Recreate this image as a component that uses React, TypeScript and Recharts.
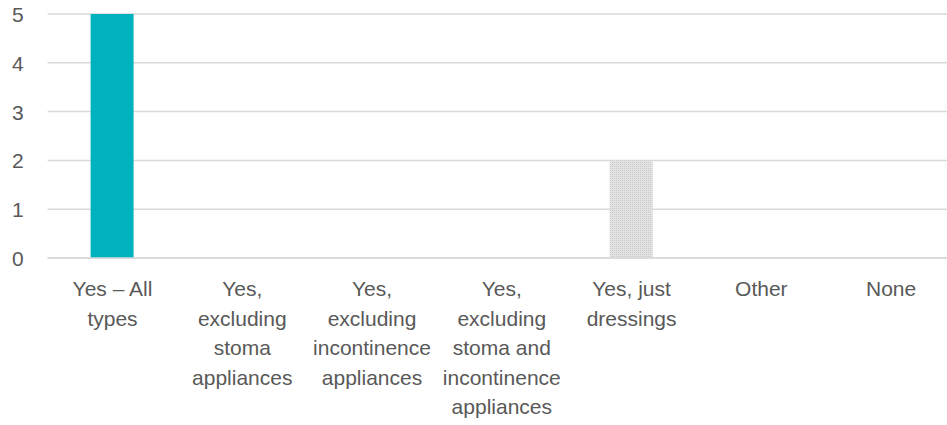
import React from 'react';
import { BarChart, Bar, XAxis, YAxis, CartesianGrid, Cell } from 'recharts';

const categories = [
  'Yes – All\ntypes',
  'Yes,\nexcluding\nstoma\nappliances',
  'Yes,\nexcluding\nincontinence\nappliances',
  'Yes,\nexcluding\nstoma and\nincontinence\nappliances',
  'Yes, just\ndressings',
  'Other',
  'None',
];
const counts = [5, 0, 0, 0, 2, 0, 0];
const barFills = ['#00B2BE', '#00B2BE', '#00B2BE', '#00B2BE', 'url(#dots)', '#00B2BE', '#00B2BE'];
const yTicks = [0, 1, 2, 3, 4, 5];

const data = categories.map((name, i) => ({ name, value: counts[i] }));

const FONT = '"Liberation Sans", Arial, sans-serif';
const TEXT = '#595959';

function XTick(props: any) {
  const { x, y, payload } = props;
  const lines = String(payload.value).split('\n');
  return (
    <text x={x} y={y} textAnchor="middle" fill={TEXT} fontFamily={FONT} fontSize={21}>
      {lines.map((l, i) => (
        <tspan key={i} x={x} dy={i === 0 ? 30 : 29.5}>
          {l}
        </tspan>
      ))}
    </text>
  );
}

function YTick(props: any) {
  const { x, y, payload } = props;
  return (
    <text x={x - 16} y={y} dy={8} textAnchor="end" fill={TEXT} fontFamily={FONT} fontSize={21}>
      {payload.value}
    </text>
  );
}

export default function App() {
  return (
    <div style={{ position: 'fixed', left: 0, top: 0, width: 947, height: 425, overflow: 'hidden', background: '#fff' }}>
      <BarChart width={960} height={425} data={data} margin={{ top: 14, right: 4, bottom: 17, left: 7.6 }}>
        <defs>
          <pattern id="dots" width={2} height={2} patternUnits="userSpaceOnUse">
            <rect width={2} height={2} fill="#e2e2e2" />
            <rect width={1} height={1} fill="#cbcbcb" />
          </pattern>
        </defs>
        <CartesianGrid vertical={false} stroke="#d9d9d9" strokeWidth={1.5} />
        <XAxis
          dataKey="name"
          interval={0}
          height={150}
          axisLine={{ stroke: '#d9d9d9', strokeWidth: 1.5 }}
          tickLine={false}
          tick={<XTick />}
        />
        <YAxis
          width={40}
          domain={[0, 5]}
          ticks={yTicks}
          axisLine={false}
          tickLine={false}
          tick={<YTick />}
        />
        <Bar dataKey="value" barSize={43} isAnimationActive={false}>
          {data.map((_, i) => (
            <Cell key={i} fill={barFills[i]} />
          ))}
        </Bar>
      </BarChart>
    </div>
  );
}
